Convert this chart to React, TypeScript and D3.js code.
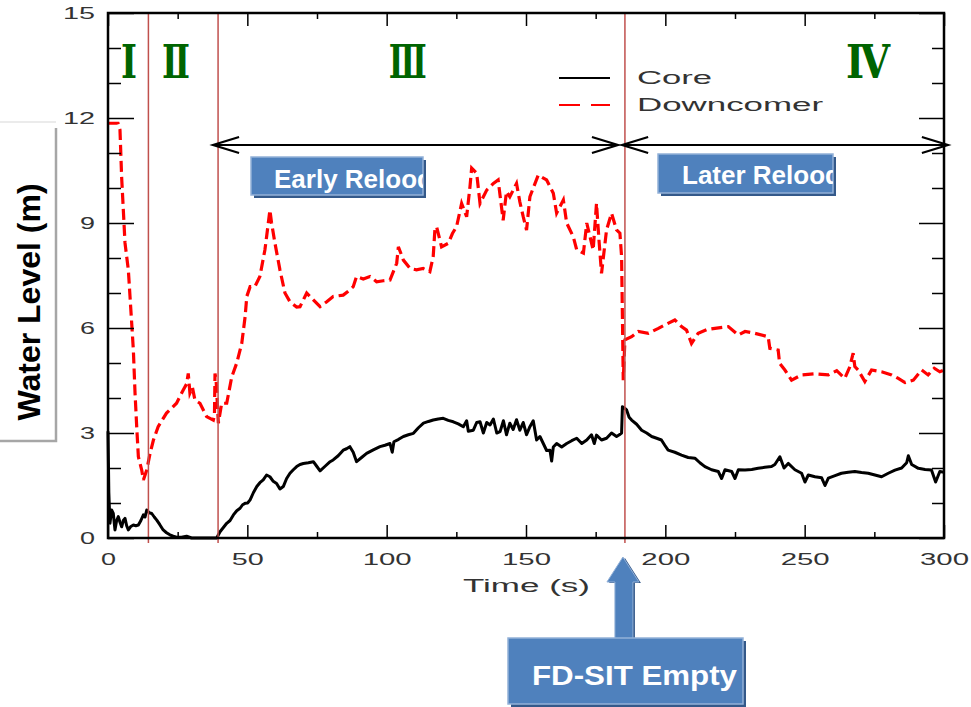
import { useEffect, useRef } from "react"
import * as d3 from "d3"

// axis ticks
const xMajorTicks = [0, 50, 100, 150, 200, 250, 300]
const xMinorTicks = [25, 75, 125, 175, 225, 275]
const yMajorTicks = [0, 3, 6, 9, 12, 15]
const yMinorTicks = [1, 2, 4, 5, 7, 8, 10, 11, 13, 14]

// phases
const phaseBounds = [14.5, 39.5, 185.5]
const phaseLabels = ["Ⅰ", "Ⅱ", "Ⅲ", "Ⅳ"]
const phaseLabelTimes = [7.5, 24.4, 107.6, 272.7]

const legendLabels = ["Core", "Downcomer"]
const refloodLabels = ["Early Relood", "Later Relood"]
const refloodSpans = [[37.7, 183.0], [184.5, 301.4]]
const eventLabel = "FD-SIT Empty"

// [time (s), level (m)]
const corePoints: [number, number][] = [
  [0, 3.05], [0.3, 1.3], [0.7, 0.42], [1.3, 0.8], [1.9, 0.7], [2.5, 0.23], [3.1, 0.5], [3.7, 0.61],
  [4.3, 0.45], [4.9, 0.32], [5.5, 0.5], [6.1, 0.56], [6.7, 0.35], [7.3, 0.23], [8.2, 0.33], [9.1, 0.37],
  [10, 0.35], [10.9, 0.37], [11.8, 0.5], [12.7, 0.66], [13.3, 0.6], [13.9, 0.8], [14.8, 0.72], [15.7, 0.7],
  [16.6, 0.6], [17.5, 0.51], [18.6, 0.38], [19.8, 0.23], [21, 0.15], [22.2, 0.09], [23.4, 0.05], [24.6, 0.02],
  [26.4, 0.02], [28.2, 0.05], [30, 0], [39, 0], [40.2, 0.18], [41.4, 0.3], [42.6, 0.42], [43.8, 0.5],
  [45, 0.66], [46.2, 0.78], [47.4, 0.85], [48.3, 0.95], [49.2, 0.99], [50.1, 1.0], [51, 1.09], [52.2, 1.3],
  [53.4, 1.47], [54.5, 1.58], [55.7, 1.66], [56.9, 1.8], [58.1, 1.75], [59.3, 1.62], [60.5, 1.56], [61.7, 1.4],
  [62.9, 1.47], [64.1, 1.7], [65.3, 1.85], [66.5, 1.95], [67.7, 2.04], [68.9, 2.1], [70.1, 2.13], [71.9, 2.15],
  [73.7, 2.18], [74.9, 2.05], [76.1, 1.92], [77.9, 2.05], [79.7, 2.18], [80.8, 2.23], [82.6, 2.35], [84.4, 2.51],
  [85.6, 2.55], [86.8, 2.61], [88, 2.45], [89.2, 2.18], [91, 2.3], [92.8, 2.42], [95.2, 2.52], [97.6, 2.61],
  [99.4, 2.65], [101.2, 2.7], [102, 2.45], [102.6, 2.75], [104.3, 2.82], [106, 2.9], [107.8, 2.95], [109.6, 2.99],
  [111.4, 3.15], [113.2, 3.28], [115, 3.33], [116.7, 3.37], [118.5, 3.4], [120.3, 3.42], [122.1, 3.36], [123.9, 3.32],
  [125.7, 3.26], [127.5, 3.18], [128.7, 3.35], [129.3, 3.05], [131.1, 3.08], [132.3, 3.3], [133.5, 3.32], [134.7, 3.0],
  [135.9, 3.3], [137.1, 3.23], [138.3, 3.4], [139.5, 3.0], [140.7, 3.04], [141.9, 3.35], [143, 2.95], [144.2, 3.28],
  [145.4, 3.1], [146.6, 3.38], [147.8, 3.08], [149, 3.3], [150.2, 2.95], [151.4, 3.18], [152.6, 3.35], [153.8, 2.8],
  [155, 2.9], [156.2, 2.7], [157.4, 2.5], [158.6, 2.51], [159.2, 2.2], [159.8, 2.6], [161, 2.7], [162.8, 2.6],
  [164.6, 2.7], [166.4, 2.78], [168.2, 2.85], [170, 2.7], [171.8, 2.8], [173.5, 2.95], [174.5, 2.7], [175.3, 2.94],
  [177.1, 2.8], [178.9, 2.85], [180.7, 3.0], [182.5, 2.9], [183.5, 2.95], [184.3, 3.0], [184.6, 3.75], [185.5, 3.7],
  [186.1, 3.66], [187, 3.45], [187.9, 3.37], [189.7, 3.25], [191.5, 3.08], [193.3, 3.0], [195.1, 2.9], [196.9, 2.85],
  [198.6, 2.8], [199.8, 2.65], [201, 2.51], [203.4, 2.45], [205.8, 2.37], [208.2, 2.3], [210.6, 2.28], [212.4, 2.15],
  [214.2, 2.04], [216.6, 1.95], [219, 1.9], [220.2, 1.7], [221.4, 1.95], [223.8, 1.9], [225, 1.7], [226.2, 1.95],
  [228.6, 1.94], [231, 1.96], [233.3, 1.99], [235.7, 2.02], [238.1, 2.04], [239.3, 2.1], [241.1, 2.32], [242.6, 2.0],
  [244.1, 2.13], [246.5, 1.95], [248.9, 1.85], [250.1, 1.6], [251.3, 1.8], [253.7, 1.75], [256.1, 1.72], [257.3, 1.5],
  [258.5, 1.71], [260.9, 1.78], [263.2, 1.85], [265.6, 1.88], [268, 1.9], [270.4, 1.87], [272.8, 1.85], [275.2, 1.8],
  [277.6, 1.75], [280, 1.85], [282.4, 1.94], [284.8, 2.0], [286.6, 2.15], [287.2, 2.35], [288.4, 2.1], [290.8, 1.99],
  [293.2, 1.96], [295.5, 1.94], [297, 1.6], [298.5, 1.9], [300, 1.88],
]

const downcomerPoints: [number, number][] = [
  [0, 11.85], [3.6, 11.85], [4.3, 11.66], [4.9, 10.3], [5.5, 9.37], [6.1, 8.43], [7.3, 7.66], [7.9, 6.9],
  [8.5, 6.14], [9.1, 5.37], [9.7, 4.14], [10.3, 3.18], [10.9, 2.32], [12.1, 1.94], [12.7, 1.66], [13.9, 1.94],
  [15.1, 2.42], [16.3, 2.8], [18, 3.18], [21, 3.57], [24.6, 3.85], [27, 4.23], [28.2, 4.4], [28.8, 4.7],
  [29.4, 4.14], [30.3, 4.3], [31.2, 3.94], [33, 3.85], [35.4, 3.47], [37.8, 3.37], [38.2, 3.5], [38.4, 4.7],
  [38.8, 4.5], [39.6, 3.28], [40.8, 3.85], [42.6, 3.85], [44.4, 4.6], [46.2, 5.0], [48, 5.56], [49.2, 6.32],
  [49.8, 6.9], [51, 7.18], [52.7, 7.18], [54.5, 7.47], [56.3, 8.23], [56.9, 8.6], [58.1, 9.37], [58.7, 9.0],
  [59.9, 8.43], [61.7, 7.66], [63.5, 7.0], [65.3, 6.75], [67.7, 6.6], [68.9, 6.61], [71.3, 7.0], [73.7, 6.8],
  [76.1, 6.61], [78.5, 6.75], [80.8, 6.9], [84.4, 6.94], [86.2, 7.05], [88, 7.18], [89.2, 7.47], [91.6, 7.4],
  [94, 7.47], [96.4, 7.32], [98.8, 7.35], [101.2, 7.37], [103.6, 7.85], [104.2, 8.32], [106, 7.94], [108.4, 7.7],
  [110.7, 7.66], [113.1, 7.7], [115.5, 7.61], [116.7, 8.04], [117.3, 8.8], [117.9, 8.9], [119.7, 8.32], [122.1, 8.42],
  [123.6, 8.7], [125.1, 8.9], [126.9, 9.56], [128.7, 9.18], [129.9, 10.04], [130.5, 10.57], [132.3, 10.42], [133.5, 9.56],
  [135.9, 9.94], [138.3, 10.13], [140, 10.23], [141.8, 9.08], [143, 9.9], [144.2, 9.75], [146.6, 10.13], [147.8, 9.6],
  [149, 9.18], [150.2, 8.8], [151.4, 9.75], [154.4, 10.37], [157.4, 10.23], [159.8, 9.85], [161, 9.28], [163.4, 9.66],
  [164.6, 9.0], [167, 8.6], [168.2, 8.23], [170.6, 8.14], [171.8, 9.0], [174.1, 8.23], [175.3, 9.56], [176.2, 8.5],
  [177.1, 7.56], [178.9, 8.8], [180.7, 9.28], [182.5, 8.8], [183.7, 8.71], [184.3, 8.04], [184.6, 6.32], [184.9, 4.51],
  [185.5, 5.66], [187.9, 5.75], [190.3, 5.9], [193.9, 5.85], [197.5, 5.99], [199.9, 6.09], [203.4, 6.23], [205.8, 6.04],
  [207.6, 5.94], [209.4, 5.56], [211.8, 5.85], [214.8, 5.95], [217.8, 5.99], [222.6, 6.04], [226.2, 5.8], [228.6, 5.9],
  [232.1, 5.85], [236.9, 5.75], [237.5, 5.42], [240.5, 5.37], [241, 4.99], [242.9, 4.8], [245.3, 4.51], [248.9, 4.66],
  [253.7, 4.69], [258.5, 4.66], [261.5, 4.78], [264.4, 4.56], [266.2, 4.89], [267.4, 5.28], [268, 4.9], [269.2, 4.8],
  [271.6, 4.47], [274, 4.8], [277.6, 4.75], [281.2, 4.66], [283.6, 4.56], [286, 4.44], [289, 4.51], [292, 4.8],
  [294.3, 4.66], [296.5, 4.85], [298.5, 4.75], [300, 4.8],
]

const W = 971, H = 707
const font = "'Liberation Sans', Arial, Helvetica, sans-serif"
const boxBlue = '#4f81bd', boxShadow = '#34598a', phaseRed = '#c0504d'

export default function App() {
  const ref = useRef<SVGSVGElement>(null)

  useEffect(() => {
    const svg = d3.select(ref.current)
    svg.selectAll('*').remove()

    const x = d3.scaleLinear().domain([0, 300]).range([108, 944])
    const y = d3.scaleLinear().domain([0, 15]).range([538, 13])

    const defs = svg.append('defs')

    // y title box
    svg.append('path')
      .attr('d', 'M0,122 L56,122')
      .attr('stroke', '#e4e4e4').attr('stroke-width', 1.5)
    svg.append('path')
      .attr('d', 'M56,128 L56,441 L0,441')
      .attr('fill', 'none').attr('stroke', '#a6a6a6').attr('stroke-width', 2.5)
    svg.append('text')
      .attr('transform', 'translate(40,302) rotate(-90)')
      .attr('text-anchor', 'middle')
      .style('font-family', font).style('font-weight', 'bold').style('font-size', '32px')
      .attr('fill', '#000')
      .text('Water Level (m)')

    // curves
    const line = d3.line<[number, number]>()
      .x(d => x(d[0]))
      .y(d => y(d[1]))

    svg.append('path')
      .attr('d', line(downcomerPoints))
      .attr('fill', 'none')
      .attr('stroke', '#ff0000')
      .attr('stroke-width', 3.2)
      .attr('stroke-dasharray', '11 5')

    svg.append('path')
      .attr('d', line(corePoints))
      .attr('fill', 'none')
      .attr('stroke', '#000')
      .attr('stroke-width', 3)
      .attr('stroke-linejoin', 'round')

    // phase boundaries
    svg.selectAll('.phase')
      .data(phaseBounds)
      .join('line')
      .attr('class', 'phase')
      .attr('x1', d => x(d)).attr('x2', d => x(d))
      .attr('y1', y(15)).attr('y2', y(0) + 5)
      .attr('stroke', phaseRed).attr('stroke-width', 1.5)

    // frame
    svg.append('rect')
      .attr('x', x(0)).attr('y', y(15))
      .attr('width', x(300) - x(0)).attr('height', y(0) - y(15))
      .attr('fill', 'none').attr('stroke', '#000').attr('stroke-width', 2.5)

    const styleAxis = (g: any) => {
      g.select('.domain').remove()
      g.selectAll('line').attr('stroke', '#000').attr('stroke-width', 1.5)
    }

    // bottom axis
    svg.append('g').attr('transform', `translate(0,${y(0)})`)
      .call(d3.axisBottom(x).tickValues(xMinorTicks).tickSize(-6).tickFormat(() => ''))
      .call(styleAxis)
    const gx = svg.append('g').attr('transform', `translate(0,${y(0)})`)
      .call(d3.axisBottom(x).tickValues(xMajorTicks).tickSize(-13).tickFormat(d3.format('d')))
      .call(styleAxis)
    gx.selectAll('text')
      .attr('y', 27).attr('dy', null)
      .attr('fill', '#333')
      .style('font-family', font).style('font-size', '17px')
      .attr('textLength', (d: any) => String(d).length * 17 - 2)
      .attr('lengthAdjust', 'spacingAndGlyphs')

    // top axis
    svg.append('g').attr('transform', `translate(0,${y(15)})`)
      .call(d3.axisTop(x).tickValues(xMinorTicks).tickSize(-6).tickFormat(() => ''))
      .call(styleAxis)
    svg.append('g').attr('transform', `translate(0,${y(15)})`)
      .call(d3.axisTop(x).tickValues(xMajorTicks).tickSize(-13).tickFormat(() => ''))
      .call(styleAxis)

    // left axis
    svg.append('g').attr('transform', `translate(${x(0)},0)`)
      .call(d3.axisLeft(y).tickValues(yMinorTicks).tickSize(-13).tickFormat(() => ''))
      .call(styleAxis)
    const gy = svg.append('g').attr('transform', `translate(${x(0)},0)`)
      .call(d3.axisLeft(y).tickValues(yMajorTicks).tickSize(-26).tickFormat(d3.format('d')))
      .call(styleAxis)
    gy.selectAll('text')
      .attr('x', -13).attr('dy', '0.34em')
      .attr('fill', '#333')
      .style('font-family', font).style('font-size', '17px')
      .attr('textLength', (d: any) => String(d).length * 17 - 2)
      .attr('lengthAdjust', 'spacingAndGlyphs')

    // right axis
    svg.append('g').attr('transform', `translate(${x(300)},0)`)
      .call(d3.axisRight(y).tickValues(yMinorTicks).tickSize(-12).tickFormat(() => ''))
      .call(styleAxis)
    svg.append('g').attr('transform', `translate(${x(300)},0)`)
      .call(d3.axisRight(y).tickValues(yMajorTicks).tickSize(-25).tickFormat(() => ''))
      .call(styleAxis)

    // x title
    svg.append('text')
      .attr('x', 463).attr('y', 592)
      .attr('fill', '#333')
      .style('font-family', font).style('font-size', '18px')
      .attr('textLength', 127).attr('lengthAdjust', 'spacingAndGlyphs')
      .text('Time (s)')

    // phase labels
    const numeralWidths = [16, 28, 38, 44]
    svg.selectAll('.phase-label')
      .data(phaseLabels)
      .join('text')
      .attr('class', 'phase-label')
      .attr('x', (d, i) => x(phaseLabelTimes[i]))
      .attr('y', 78)
      .attr('text-anchor', 'middle')
      .attr('fill', '#006400')
      .style('font-family', "'DejaVu Serif', 'Liberation Serif', serif")
      .style('font-weight', 'bold')
      .style('font-size', '47px')
      .attr('textLength', (d, i) => numeralWidths[i])
      .attr('lengthAdjust', 'spacingAndGlyphs')
      .text(d => d)

    // legend
    const legend = svg.append('g')
    legend.append('line')
      .attr('x1', 559).attr('x2', 610).attr('y1', 78).attr('y2', 78)
      .attr('stroke', '#000').attr('stroke-width', 2)
    legend.append('line')
      .attr('x1', 559).attr('x2', 610).attr('y1', 105).attr('y2', 105)
      .attr('stroke', '#ff0000').attr('stroke-width', 2).attr('stroke-dasharray', '21 11')
    legend.selectAll('text')
      .data(legendLabels)
      .join('text')
      .attr('x', 637)
      .attr('y', (d, i) => 84 + i * 27)
      .attr('fill', '#333')
      .style('font-family', font).style('font-size', '18px')
      .attr('textLength', d => (d === 'Core' ? 75 : 186))
      .attr('lengthAdjust', 'spacingAndGlyphs')
      .text(d => d)

    // reflood double arrows
    const arrowY = 145
    refloodSpans.forEach(([a, b]) => {
      const x1 = x(a), x2 = x(b)
      svg.append('path')
        .attr('d', `M${x1},${arrowY}L${x2},${arrowY}` +
          `M${x1 + 26},${arrowY - 8}L${x1},${arrowY}L${x1 + 26},${arrowY + 8}` +
          `M${x2 - 26},${arrowY - 8}L${x2},${arrowY}L${x2 - 26},${arrowY + 8}`)
        .attr('fill', 'none').attr('stroke', '#000').attr('stroke-width', 2.2)
    })

    // reflood label boxes
    const boxes = [
      { x0: 251, y0: 157, w: 172, h: 38, tx: 274, ty: 188 },
      { x0: 658, y0: 154, w: 175, h: 39, tx: 682, ty: 184 },
    ]
    boxes.forEach((b, i) => {
      defs.append('clipPath').attr('id', `clip-box-${i}`)
        .append('rect').attr('x', b.x0).attr('y', b.y0).attr('width', b.w).attr('height', b.h)
      svg.append('rect')
        .attr('x', b.x0 + 3).attr('y', b.y0 + 3).attr('width', b.w).attr('height', b.h)
        .attr('fill', boxShadow)
      svg.append('rect')
        .attr('x', b.x0).attr('y', b.y0).attr('width', b.w).attr('height', b.h)
        .attr('fill', boxBlue).attr('stroke', '#93b1d8').attr('stroke-width', 1.5)
      svg.append('text')
        .attr('clip-path', `url(#clip-box-${i})`)
        .attr('x', b.tx).attr('y', b.ty)
        .attr('fill', '#fff')
        .style('font-family', font).style('font-weight', 'bold').style('font-size', '26px')
        .text(refloodLabels[i])
    })

    // FD-SIT arrow and box
    const cx = x(phaseBounds[2]) - 2
    const arrowPts: [number, number][] = [
      [cx, 557], [cx + 16, 582], [cx + 10, 582], [cx + 10, 639],
      [cx - 8, 639], [cx - 8, 582], [cx - 16, 582],
    ]
    svg.append('polygon')
      .attr('points', arrowPts.map(p => `${p[0] + 2},${p[1] + 1}`).join(' '))
      .attr('fill', boxShadow)
    svg.append('polygon')
      .attr('points', arrowPts.map(p => p.join(',')).join(' '))
      .attr('fill', boxBlue).attr('stroke', '#93b1d8').attr('stroke-width', 1)

    svg.append('rect')
      .attr('x', 511).attr('y', 641).attr('width', 235).attr('height', 66)
      .attr('fill', boxShadow)
    svg.append('rect')
      .attr('x', 508).attr('y', 638).attr('width', 235).attr('height', 66)
      .attr('fill', boxBlue).attr('stroke', '#93b1d8').attr('stroke-width', 1.5)
    svg.append('text')
      .attr('x', 532).attr('y', 685)
      .attr('fill', '#fff')
      .style('font-family', font).style('font-weight', 'bold').style('font-size', '28px')
      .attr('textLength', 205).attr('lengthAdjust', 'spacingAndGlyphs')
      .text(eventLabel)
  }, [])

  return (
    <svg
      ref={ref}
      width={W}
      height={H}
      style={{ position: 'absolute', left: 0, top: 0, background: '#fff', display: 'block' }}
    />
  )
}
